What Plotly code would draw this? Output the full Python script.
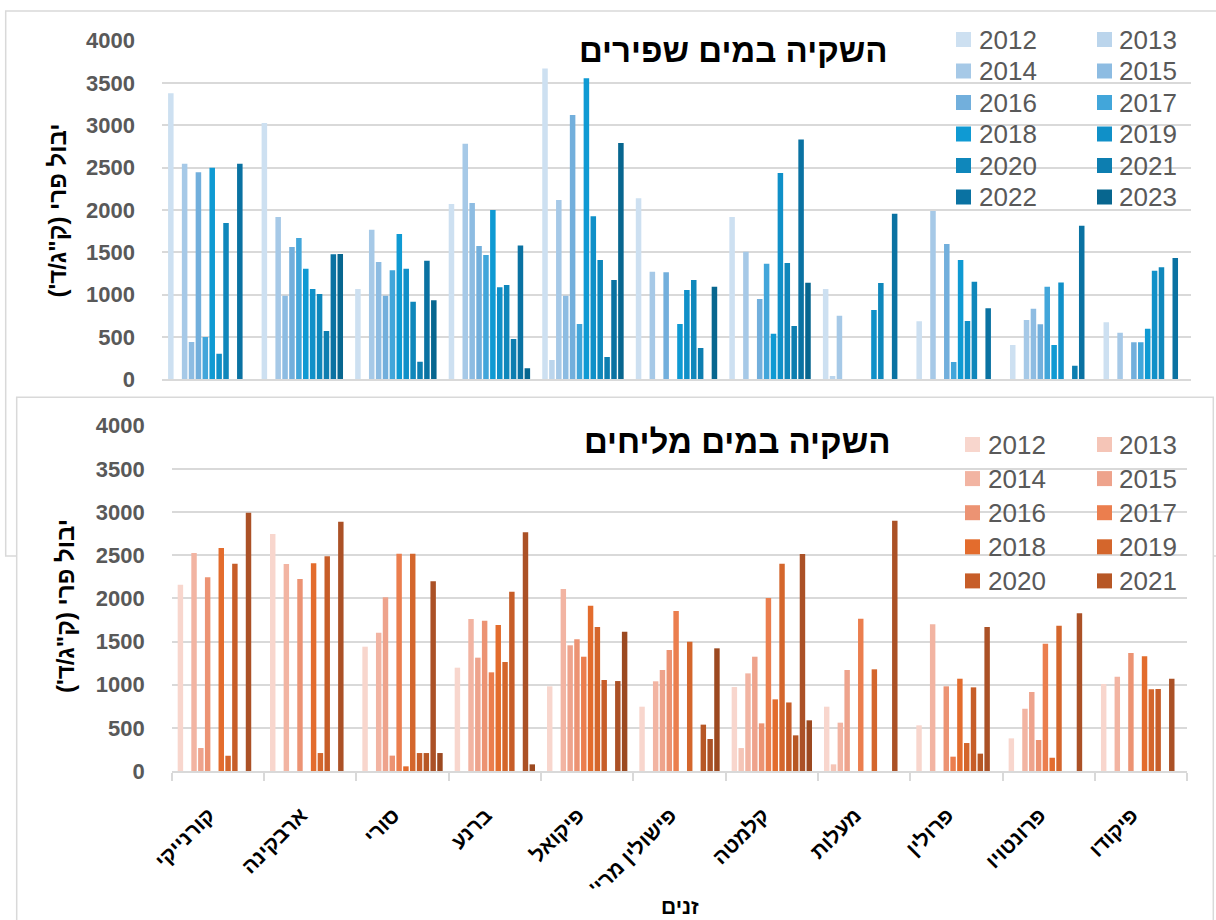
import plotly.graph_objects as go

# ---- data -------------------------------------------------------------
cultivars = ["קורנייקי", "ארבקינה", "סורי", "ברנע", "פיקואל", "פישולין מרי'",
             "קלמטה", "מעלות", "פרולין", "פרונטויו", "פיקודו"]
years = [2012, 2013, 2014, 2015, 2016, 2017, 2018, 2019, 2020, 2021, 2022, 2023]

# fruit yield (kg/dunam), fresh-water irrigation; one row per cultivar, one column per year
fresh_yield = [
    [3380, None, 2545, 440, 2445, 500, 2500, 303, 1846, None, 2545, None],
    [3027, None, 1917, 988, 1562, 1668, 1307, 1067, 1008, 571, 1476, 1480],
    [1067, None, 1767, 1385, 988, 1287, 1716, 1307, 917, 208, 1401, 933],
    [2071, None, 2783, 2083, 1575, 1469, 2000, 1086, 1114, 476, 1582, 130],
    [3673, 228, 2118, 988, 3122, 653, 3555, 1925, 1409, 263, 1173, 2791],
    [2138, None, 1271, None, 1264, None, 653, 1055, 1173, 370, None, 1094],
    [1917, None, 1507, None, 948, 1366, 539, 2437, 1374, 630, 2834, 1141],
    [1067, 39, 752, None, None, None, None, 818, 1137, None, 1957, None],
    [685, None, 1988, None, 1598, 204, 1409, 689, 1153, None, 838, None],
    [405, None, 700, 834, 650, 1094, 405, 1145, None, 161, 1815, None],
    [673, None, 551, None, 437, 437, 598, 1283, 1323, None, 1433, None],
]

# fruit yield (kg/dunam), saline-water irrigation
saline_yield = [
    [2158, None, 2525, 266, 2243, None, 2583, 178, 2402, None, 2992, None],
    [2745, None, 2398, None, 2224, None, 2406, 208, 2487, None, 2888, None],
    [1440, None, 1602, 2012, 178, 2518, 54, 2518, 208, 208, 2197, 208],
    [1197, None, 1761, 1313, 1741, 1143, 1691, 1263, 2077, None, 2765, 77],
    [981, None, 2108, 1456, 1525, 1324, 1915, 1668, 1054, None, 1042, 1614],
    [745, None, 1039, 1170, 1402, 1853, None, 1498, None, 537, 371, 1421],
    [973, 266, 1131, 1324, 552, 2004, 830, 2402, 794, 413, 2514, 587],
    [745, 77, 560, 1170, None, 1765, None, 1178, None, None, 2900, None],
    [529, None, 1699, None, 981, 166, 1069, 324, 969, 201, 1668, None],
    [378, None, 722, 915, 359, 1475, 154, 1683, None, None, 1826, None],
    [1008, None, 1093, None, 1367, None, 1328, 946, 949, None, 1069, None],
]
saline_legend_years = years[:10]

blue_colors = ["#CDE0F1", "#BBD5EC", "#A6C9E7", "#8DBCE2", "#72AFDC", "#42A6DA",
               "#0F9AD3", "#1090C8", "#0F87BB", "#0D7EB0", "#0A72A2", "#07668F"]
orange_colors = ["#F8D6CD", "#F5C5B7", "#F2B4A2", "#EEA38C", "#EC9373", "#EB7E4E",
                 "#E36C2D", "#D4662C", "#C75D28", "#B75725", "#AB5126", "#9C4920"]

title_fresh = "השקיה במים שפירים"
title_saline = "השקיה במים מליחים"
y_title = "יבול פרי (ק\"ג/ד')"
x_title = "זנים"

# ---- helpers ----------------------------------------------------------
W, H = 1216, 920
RLM = "\u200f"
FONT = "Liberation Sans, Arial, DejaVu Sans, sans-serif"
GRID = "#D9D9D9"
TICK_GREY = "#595959"


def fx(px):
    return px / W


def fy(py):
    return 1 - py / H


fig = go.Figure()

for j, yr in enumerate(years):
    fig.add_trace(go.Bar(
        x=cultivars, y=[row[j] for row in fresh_yield], name=str(yr),
        marker=dict(color=blue_colors[j], line=dict(width=0)),
        xaxis="x", yaxis="y", showlegend=False,
    ))
for j, yr in enumerate(years):
    fig.add_trace(go.Bar(
        x=cultivars, y=[row[j] for row in saline_yield], name=str(yr),
        marker=dict(color=orange_colors[j], line=dict(width=0)),
        xaxis="x2", yaxis="y2", showlegend=False,
    ))

ytick_style = dict(
    range=[0, 4000], dtick=500, showgrid=True, gridcolor=GRID, gridwidth=1.5,
    zeroline=False, showline=False, ticks="", ticklabelstandoff=26,
    automargin=False,
    tickfont=dict(family=FONT, size=22, color=TICK_GREY, weight="bold"),
)

fig.update_layout(
    template="none",
    width=W, height=H, autosize=False,
    margin=dict(l=0, r=0, t=0, b=0, pad=0, autoexpand=False),
    paper_bgcolor="white", plot_bgcolor="rgba(0,0,0,0)",
    barmode="group", bargap=0.115, bargroupgap=0.2,
    font=dict(family=FONT),
    showlegend=False,
    xaxis=dict(domain=[fx(162), fx(1191)], anchor="y", type="category",
               showticklabels=False, ticks="", showline=True, automargin=False,
               linecolor=GRID, linewidth=1.5, showgrid=False, zeroline=False),
    yaxis=dict(domain=[fy(379.3), fy(40.7)], anchor="x", **ytick_style),
    xaxis2=dict(domain=[fx(171.7), fx(1187.3)], anchor="y2", type="category",
                tickangle=-45, ticks="outside", ticklen=8, tickcolor=GRID,
                tickwidth=1.5, tickson="boundaries", showline=True,
                linecolor=GRID, linewidth=1.5, showgrid=False, zeroline=False,
                automargin=False, ticklabelstandoff=22, ticklabelshift=-9,
                tickmode="array", tickvals=cultivars,
                ticktext=[c + RLM for c in cultivars],
                tickfont=dict(family=FONT, size=21, color="black", weight="bold")),
    yaxis2=dict(domain=[fy(771), fy(425.7)], anchor="x2", **ytick_style),
)

# chart-area frames: the saline panel sits on top of the fresh-water panel
shapes = [
    dict(type="rect", xref="paper", yref="paper", layer="below",
         x0=fx(5.7), x1=fx(1222), y0=fy(556), y1=fy(11),
         line=dict(color=GRID, width=1.5), fillcolor="rgba(0,0,0,0)"),
    dict(type="rect", xref="paper", yref="paper", layer="below",
         x0=fx(16.7), x1=fx(1213.3), y0=fy(930), y1=fy(397.3),
         line=dict(color=GRID, width=1.5), fillcolor="white"),
]

annotations = [
    dict(text=title_fresh, x=fx(734), y=fy(50), xref="paper", yref="paper",
         showarrow=False, xanchor="center", yanchor="middle",
         font=dict(family=FONT, size=33, color="black", weight="bold")),
    dict(text=title_saline, x=fx(737), y=fy(441), xref="paper", yref="paper",
         showarrow=False, xanchor="center", yanchor="middle",
         font=dict(family=FONT, size=33, color="black", weight="bold")),
    dict(text=y_title + RLM, x=fx(56.5), y=fy(211), xref="paper", yref="paper",
         showarrow=False, textangle=-90, xanchor="center", yanchor="middle",
         font=dict(family=FONT, size=24, color="black", weight="bold")),
    dict(text=y_title + RLM, x=fx(65), y=fy(606), xref="paper", yref="paper",
         showarrow=False, textangle=-90, xanchor="center", yanchor="middle",
         font=dict(family=FONT, size=24, color="black", weight="bold")),
    dict(text=x_title, x=fx(680), y=fy(906), xref="paper", yref="paper",
         showarrow=False, xanchor="center", yanchor="middle",
         font=dict(family=FONT, size=21, color="black", weight="bold")),
]


def add_legend(year_list, colors, sq_x, txt_x, row0, step):
    for k, yr in enumerate(year_list):
        col, row = k % 2, k // 2
        cy = row0 + row * step
        shapes.append(dict(type="rect", xref="paper", yref="paper", layer="above",
                           x0=fx(sq_x[col] - 7.5), x1=fx(sq_x[col] + 7.5),
                           y0=fy(cy + 7.5), y1=fy(cy - 7.5),
                           line=dict(width=0), fillcolor=colors[k]))
        annotations.append(dict(text=str(yr), x=fx(txt_x[col]), y=fy(cy),
                                xref="paper", yref="paper", showarrow=False,
                                xanchor="left", yanchor="middle",
                                font=dict(family=FONT, size=26, color=TICK_GREY)))


add_legend(years, blue_colors, (963.5, 1104.5), (977, 1117), 39.5, 31.5)
add_legend(saline_legend_years, orange_colors, (972.5, 1104.5), (986, 1117), 444.5, 34.1)

fig.update_layout(shapes=shapes, annotations=annotations)

fig.write_html("out.html")
